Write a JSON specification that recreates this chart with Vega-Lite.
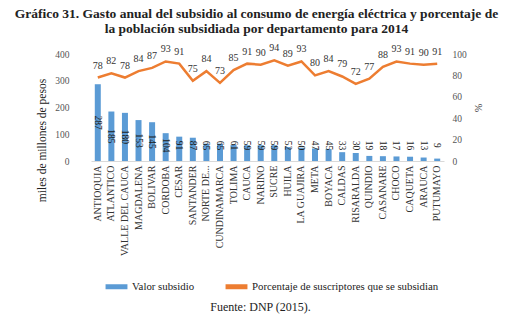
{
  "$schema": "https://vega.github.io/schema/vega-lite/v6.json",
  "autosize": {"type": "none"},
  "width": 353,
  "height": 107,
  "padding": {"left": 91, "top": 54, "right": 69, "bottom": 161},
  "background": "white",
  "config": {
    "view": {"stroke": null},
    "font": "Liberation Serif",
    "axisY": {"labelOverlap": false}
  },
  "title": {
    "text": ["Gráfico 31. Gasto anual del subsidio al consumo de energía eléctrica y porcentaje de", "la población subsidiada por departamento para 2014"],
    "font": "Liberation Serif",
    "fontSize": 13.5,
    "fontWeight": "bold",
    "color": "#222222",
    "anchor": "middle",
    "frame": "group",
    "dx": -11,
    "offset": 8,
    "lineHeight": 15
  },
  "data": {
    "values": [
      {"d": "ANTIOQUIA", "v": 287, "p": 78},
      {"d": "ATLANTICO", "v": 185, "p": 82},
      {"d": "VALLE DEL CAUCA", "v": 180, "p": 78},
      {"d": "MAGDALENA", "v": 153, "p": 84},
      {"d": "BOLIVAR", "v": 145, "p": 87},
      {"d": "CORDOBA", "v": 104, "p": 93},
      {"d": "CESAR", "v": 91, "p": 91},
      {"d": "SANTANDER", "v": 87, "p": 75},
      {"d": "NORTE DE...", "v": 65, "p": 84},
      {"d": "CUNDINAMARCA", "v": 65, "p": 73},
      {"d": "TOLIMA", "v": 61, "p": 85},
      {"d": "CAUCA", "v": 59, "p": 91},
      {"d": "NARINO", "v": 59, "p": 90},
      {"d": "SUCRE", "v": 59, "p": 94},
      {"d": "HUILA", "v": 52, "p": 89},
      {"d": "LA GUAJIRA", "v": 50, "p": 93},
      {"d": "META", "v": 47, "p": 80},
      {"d": "BOYACA", "v": 45, "p": 84},
      {"d": "CALDAS", "v": 33, "p": 79},
      {"d": "RISARALDA", "v": 30, "p": 72},
      {"d": "QUINDIO", "v": 19, "p": 77},
      {"d": "CASANARE", "v": 18, "p": 88},
      {"d": "CHOCO", "v": 17, "p": 93},
      {"d": "CAQUETA", "v": 16, "p": 91},
      {"d": "ARAUCA", "v": 13, "p": 90},
      {"d": "PUTUMAYO", "v": 9, "p": 91}
    ]
  },
  "encoding": {
    "x": {
      "field": "d",
      "type": "nominal",
      "sort": null,
      "scale": {"paddingInner": 0.56, "paddingOuter": 0.28},
      "axis": {
        "labelAngle": -90,
        "labelFont": "Liberation Serif",
        "labelFontSize": 10,
        "labelColor": "#333333",
        "labelPadding": 4,
        "labelOverlap": false,
        "ticks": false,
        "domainColor": "#d9d9d9",
        "title": "Fuente: DNP (2015).",
        "titleFont": "Liberation Serif",
        "titleFontSize": 12,
        "titleFontWeight": "normal",
        "titleColor": "#222222",
        "titleX": 169,
        "titleY": 145,
        "titleBaseline": "middle"
      }
    }
  },
  "layer": [
    {
      "layer": [
        {
          "mark": {"type": "bar", "size": 6},
          "encoding": {
            "y": {
              "field": "v",
              "type": "quantitative",
              "scale": {"domain": [0, 400], "nice": false},
              "axis": {
                "values": [0, 100, 200, 300, 400],
                "grid": false,
                "domain": false,
                "ticks": false,
                "labelOverlap": false,
                "labelFont": "Liberation Serif",
                "labelFontSize": 9.5,
                "labelColor": "#555555",
                "labelPadding": 22,
                "title": "miles de millones de pesos",
                "titleFont": "Liberation Serif",
                "titleFontSize": 11.5,
                "titleFontWeight": "normal",
                "titleColor": "#222222",
                "titleY": 86,
                "titlePadding": 7
              }
            },
            "color": {
              "datum": "Valor subsidio",
              "type": "nominal",
              "scale": {
                "domain": ["Valor subsidio", "Porcentaje de suscriptores que se subsidian"],
                "range": ["#5b9bd5", "#ed7d31"]
              },
              "legend": {
                "orient": "none",
                "legendX": 12,
                "legendY": 219,
                "direction": "horizontal",
                "title": null,
                "symbolType": "stroke",
                "symbolStrokeWidth": 5,
                "symbolSize": 480,
                "labelOffset": 2,
                "labelFont": "Liberation Serif",
                "labelFontSize": 10.8,
                "labelColor": "#222222",
                "columnPadding": 20,
                "labelLimit": 300
              }
            }
          }
        },
        {
          "transform": [{"calculate": "max(datum.v / 2, 58)", "as": "lab"}],
          "mark": {"type": "text", "angle": 90, "font": "Liberation Serif", "fontSize": 9.5, "color": "#222222", "baseline": "middle", "align": "center"},
          "encoding": {
            "y": {
              "field": "lab",
              "type": "quantitative",
              "axis": {
                "values": [0, 100, 200, 300, 400],
                "grid": false,
                "domain": false,
                "ticks": false,
                "labelOverlap": false,
                "labelFont": "Liberation Serif",
                "labelFontSize": 9.5,
                "labelColor": "#555555",
                "labelPadding": 22,
                "title": "miles de millones de pesos",
                "titleFont": "Liberation Serif",
                "titleFontSize": 11.5,
                "titleFontWeight": "normal",
                "titleColor": "#222222",
                "titleY": 86,
                "titlePadding": 7
              }
            },
            "text": {"field": "v", "type": "quantitative"}
          }
        }
      ]
    },
    {
      "layer": [
        {
          "mark": {"type": "line", "strokeWidth": 2.5},
          "encoding": {
            "y": {
              "field": "p",
              "type": "quantitative",
              "scale": {"domain": [0, 100], "nice": false},
              "axis": {
                "orient": "right",
                "values": [0, 20, 40, 60, 80, 100],
                "grid": false,
                "domain": false,
                "ticks": false,
                "labelOverlap": false,
                "labelFont": "Liberation Serif",
                "labelFontSize": 9.5,
                "labelColor": "#555555",
                "labelPadding": 8,
                "title": "%",
                "titleFont": "Liberation Serif",
                "titleFontSize": 10,
                "titleFontWeight": "normal",
                "titleColor": "#333333",
                "titlePadding": 6
              }
            },
            "color": {"datum": "Porcentaje de suscriptores que se subsidian", "type": "nominal"}
          }
        },
        {
          "mark": {"type": "text", "font": "Liberation Serif", "fontSize": 10, "color": "#333333", "dy": -12},
          "encoding": {
            "y": {
              "field": "p",
              "type": "quantitative",
              "axis": {
                "orient": "right",
                "values": [0, 20, 40, 60, 80, 100],
                "grid": false,
                "domain": false,
                "ticks": false,
                "labelOverlap": false,
                "labelFont": "Liberation Serif",
                "labelFontSize": 9.5,
                "labelColor": "#555555",
                "labelPadding": 8,
                "title": "%",
                "titleFont": "Liberation Serif",
                "titleFontSize": 10,
                "titleFontWeight": "normal",
                "titleColor": "#333333",
                "titlePadding": 6
              }
            },
            "text": {"field": "p", "type": "quantitative"}
          }
        }
      ]
    }
  ],
  "resolve": {"scale": {"y": "independent"}}
}
